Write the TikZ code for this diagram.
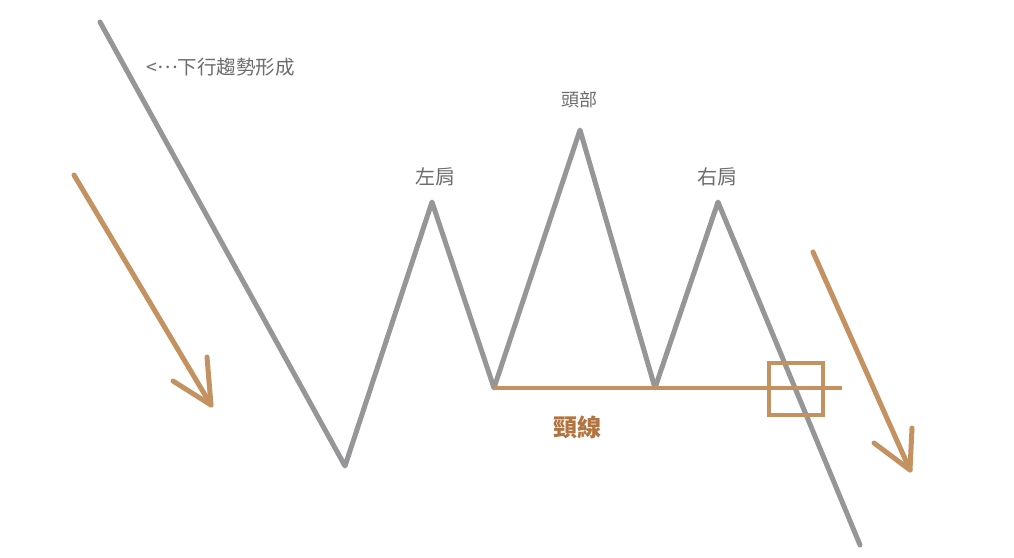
\documentclass[tikz,border=0pt]{standalone}
\usepackage{fontspec}
\newfontfamily\cjk{Noto Sans CJK TC}
\definecolor{trendgray}{RGB}{150,150,152}
\definecolor{labelgray}{RGB}{108,108,108}
\definecolor{neckorange}{RGB}{196,145,96}
\definecolor{necktext}{RGB}{178,116,64}
\usetikzlibrary{positioning}
\tikzset{
	trend/.style={draw=trendgray, line width=5pt, line join=round, line cap=round},
	hint/.style={draw=neckorange, line width=5pt, line join=round, line cap=round},
	neck/.style={draw=neckorange, line width=4pt},
	tag/.style={text=labelgray, font=\cjk\fontsize{18}{20}\selectfont, inner sep=0pt},
}
\begin{document}
\begin{tikzpicture}[x=1pt, y=-1pt]
	\useasboundingbox (0,0) rectangle (1014,557);
	% price path
	\coordinate (p0) at (100,22);
	\coordinate (p1) at (345,466);
	\coordinate (ls) at (432,202);
	\coordinate (p2) at (494,388);
	\coordinate (hd) at (580,130);
	\coordinate (p3) at (655,388);
	\coordinate (rs) at (718,202);
	\coordinate (p4) at (860,545);
	\draw [trend] (p0) -- (p1) -- (ls) -- (p2) -- (hd) -- (p3) -- (rs) -- (p4);
	% neckline and break box
	\coordinate (n1) at (842,388);
	\draw [neck] (p2) -- (n1);
	\node [draw=neckorange, line width=4pt, minimum width=54pt, minimum height=52pt, inner sep=0pt] (brk) at (796,388.5) {};
	% trend arrows
	\coordinate (la0) at (74,175);
	\coordinate (la1) at (211,405);
	\coordinate (la2) at (173,381);
	\coordinate (la3) at (207,357);
	\draw [hint] (la0) -- (la1);
	\draw [hint] (la2) -- (la1) -- (la3);
	\coordinate (ra0) at (813,252);
	\coordinate (ra1) at (910,470);
	\coordinate (ra2) at (874,443);
	\coordinate (ra3) at (912,428);
	\draw [hint] (ra0) -- (ra1);
	\draw [hint] (ra2) -- (ra1) -- (ra3);
	% labels
	\node [tag, anchor=west, font=\cjk\fontsize{19.5}{21}\selectfont] (down) at (146,67) {<\raisebox{0.3em}{…}下行趨勢形成};
	\node [tag] (headtag) at (579,100) {頭部};
	\node [tag, font=\cjk\fontsize{20}{22}\selectfont] (lstag) at (435,177) {左肩};
	\node [tag, font=\cjk\fontsize{20}{22}\selectfont] (rstag) at (717,177) {右肩};
	\node [tag, text=necktext, font=\cjk\bfseries\fontsize{24}{26}\selectfont] (necktag) at (577,427) {頸線};
\end{tikzpicture}
\end{document}
